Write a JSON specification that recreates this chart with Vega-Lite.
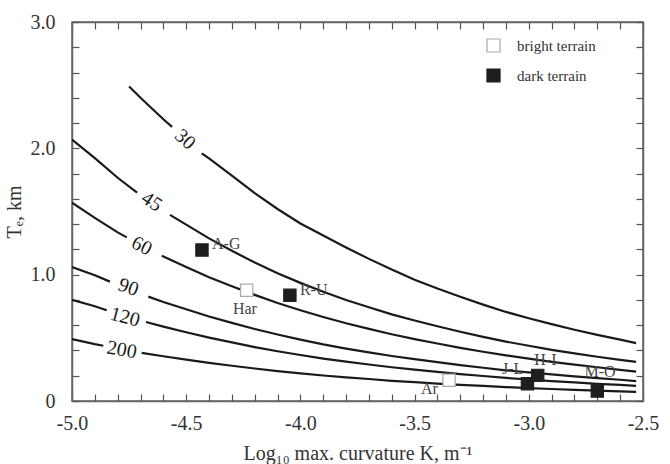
{
  "$schema": "https://vega.github.io/schema/vega-lite/v6.json",
  "width": 571,
  "height": 379,
  "autosize": {"type": "none"},
  "padding": {"left": 72, "top": 22, "right": 27, "bottom": 63},
  "background": "white",
  "config": {
    "font": "Liberation Serif",
    "view": {"stroke": "#666", "strokeWidth": 1.5},
    "axis": {
      "labelFont": "Liberation Serif",
      "titleFont": "Liberation Serif",
      "labelFontSize": 20,
      "titleFontSize": 20,
      "titleFontWeight": "normal",
      "labelColor": "#333",
      "titleColor": "#333",
      "domainColor": "#666",
      "domainWidth": 1.5,
      "tickColor": "#555",
      "tickWidth": 1.2,
      "tickSize": -7,
      "grid": false
    }
  },
  "datasets": {
    "curves": [
      {"c": "30", "s": "a", "x": -4.75, "T": 2.49},
      {"c": "30", "s": "a", "x": -4.7, "T": 2.4},
      {"c": "30", "s": "a", "x": -4.6, "T": 2.23},
      {"c": "30", "s": "a", "x": -4.562, "T": 2.17},
      {"c": "30", "s": "b", "x": -4.432, "T": 1.96},
      {"c": "30", "s": "b", "x": -4.4, "T": 1.92},
      {"c": "30", "s": "b", "x": -4.3, "T": 1.783},
      {"c": "30", "s": "b", "x": -4.2, "T": 1.645},
      {"c": "30", "s": "b", "x": -4.1, "T": 1.52},
      {"c": "30", "s": "b", "x": -4.0, "T": 1.405},
      {"c": "30", "s": "b", "x": -3.9, "T": 1.31},
      {"c": "30", "s": "b", "x": -3.8, "T": 1.215},
      {"c": "30", "s": "b", "x": -3.7, "T": 1.125},
      {"c": "30", "s": "b", "x": -3.6, "T": 1.04},
      {"c": "30", "s": "b", "x": -3.5, "T": 0.96},
      {"c": "30", "s": "b", "x": -3.4, "T": 0.89},
      {"c": "30", "s": "b", "x": -3.3, "T": 0.825},
      {"c": "30", "s": "b", "x": -3.2, "T": 0.763},
      {"c": "30", "s": "b", "x": -3.1, "T": 0.705},
      {"c": "30", "s": "b", "x": -3.0, "T": 0.655},
      {"c": "30", "s": "b", "x": -2.9, "T": 0.608},
      {"c": "30", "s": "b", "x": -2.8, "T": 0.564},
      {"c": "30", "s": "b", "x": -2.7, "T": 0.523},
      {"c": "30", "s": "b", "x": -2.6, "T": 0.486},
      {"c": "30", "s": "b", "x": -2.53, "T": 0.458},
      {"c": "45", "s": "a", "x": -5.0, "T": 2.07},
      {"c": "45", "s": "a", "x": -4.9, "T": 1.922},
      {"c": "45", "s": "a", "x": -4.8, "T": 1.767},
      {"c": "45", "s": "a", "x": -4.715, "T": 1.65},
      {"c": "45", "s": "b", "x": -4.571, "T": 1.473},
      {"c": "45", "s": "b", "x": -4.5, "T": 1.396},
      {"c": "45", "s": "b", "x": -4.4, "T": 1.287},
      {"c": "45", "s": "b", "x": -4.3, "T": 1.189},
      {"c": "45", "s": "b", "x": -4.2, "T": 1.096},
      {"c": "45", "s": "b", "x": -4.1, "T": 1.011},
      {"c": "45", "s": "b", "x": -4.0, "T": 0.935},
      {"c": "45", "s": "b", "x": -3.9, "T": 0.865},
      {"c": "45", "s": "b", "x": -3.8, "T": 0.8},
      {"c": "45", "s": "b", "x": -3.7, "T": 0.742},
      {"c": "45", "s": "b", "x": -3.6, "T": 0.686},
      {"c": "45", "s": "b", "x": -3.5, "T": 0.637},
      {"c": "45", "s": "b", "x": -3.4, "T": 0.592},
      {"c": "45", "s": "b", "x": -3.3, "T": 0.548},
      {"c": "45", "s": "b", "x": -3.2, "T": 0.508},
      {"c": "45", "s": "b", "x": -3.1, "T": 0.47},
      {"c": "45", "s": "b", "x": -3.0, "T": 0.437},
      {"c": "45", "s": "b", "x": -2.9, "T": 0.405},
      {"c": "45", "s": "b", "x": -2.8, "T": 0.377},
      {"c": "45", "s": "b", "x": -2.7, "T": 0.35},
      {"c": "45", "s": "b", "x": -2.6, "T": 0.325},
      {"c": "45", "s": "b", "x": -2.53, "T": 0.31},
      {"c": "60", "s": "a", "x": -5.0, "T": 1.57},
      {"c": "60", "s": "a", "x": -4.9, "T": 1.45},
      {"c": "60", "s": "a", "x": -4.8, "T": 1.335},
      {"c": "60", "s": "a", "x": -4.76, "T": 1.295},
      {"c": "60", "s": "b", "x": -4.607, "T": 1.15},
      {"c": "60", "s": "b", "x": -4.5, "T": 1.06},
      {"c": "60", "s": "b", "x": -4.4, "T": 0.98},
      {"c": "60", "s": "b", "x": -4.3, "T": 0.908},
      {"c": "60", "s": "b", "x": -4.2, "T": 0.84},
      {"c": "60", "s": "b", "x": -4.1, "T": 0.776},
      {"c": "60", "s": "b", "x": -4.0, "T": 0.718},
      {"c": "60", "s": "b", "x": -3.9, "T": 0.665},
      {"c": "60", "s": "b", "x": -3.8, "T": 0.615},
      {"c": "60", "s": "b", "x": -3.7, "T": 0.571},
      {"c": "60", "s": "b", "x": -3.6, "T": 0.528},
      {"c": "60", "s": "b", "x": -3.5, "T": 0.49},
      {"c": "60", "s": "b", "x": -3.4, "T": 0.455},
      {"c": "60", "s": "b", "x": -3.3, "T": 0.421},
      {"c": "60", "s": "b", "x": -3.2, "T": 0.39},
      {"c": "60", "s": "b", "x": -3.1, "T": 0.361},
      {"c": "60", "s": "b", "x": -3.0, "T": 0.335},
      {"c": "60", "s": "b", "x": -2.9, "T": 0.31},
      {"c": "60", "s": "b", "x": -2.8, "T": 0.288},
      {"c": "60", "s": "b", "x": -2.7, "T": 0.267},
      {"c": "60", "s": "b", "x": -2.6, "T": 0.247},
      {"c": "60", "s": "b", "x": -2.53, "T": 0.233},
      {"c": "90", "s": "a", "x": -5.0, "T": 1.06},
      {"c": "90", "s": "a", "x": -4.9, "T": 0.995},
      {"c": "90", "s": "a", "x": -4.834, "T": 0.945},
      {"c": "90", "s": "b", "x": -4.666, "T": 0.826},
      {"c": "90", "s": "b", "x": -4.6, "T": 0.784},
      {"c": "90", "s": "b", "x": -4.5, "T": 0.726},
      {"c": "90", "s": "b", "x": -4.4, "T": 0.669},
      {"c": "90", "s": "b", "x": -4.3, "T": 0.618},
      {"c": "90", "s": "b", "x": -4.2, "T": 0.57},
      {"c": "90", "s": "b", "x": -4.1, "T": 0.526},
      {"c": "90", "s": "b", "x": -4.0, "T": 0.486},
      {"c": "90", "s": "b", "x": -3.9, "T": 0.448},
      {"c": "90", "s": "b", "x": -3.8, "T": 0.415},
      {"c": "90", "s": "b", "x": -3.7, "T": 0.385},
      {"c": "90", "s": "b", "x": -3.6, "T": 0.356},
      {"c": "90", "s": "b", "x": -3.5, "T": 0.331},
      {"c": "90", "s": "b", "x": -3.4, "T": 0.308},
      {"c": "90", "s": "b", "x": -3.3, "T": 0.284},
      {"c": "90", "s": "b", "x": -3.2, "T": 0.263},
      {"c": "90", "s": "b", "x": -3.1, "T": 0.243},
      {"c": "90", "s": "b", "x": -3.0, "T": 0.227},
      {"c": "90", "s": "b", "x": -2.9, "T": 0.21},
      {"c": "90", "s": "b", "x": -2.8, "T": 0.195},
      {"c": "90", "s": "b", "x": -2.7, "T": 0.181},
      {"c": "90", "s": "b", "x": -2.6, "T": 0.168},
      {"c": "90", "s": "b", "x": -2.53, "T": 0.158},
      {"c": "120", "s": "a", "x": -5.0, "T": 0.8},
      {"c": "120", "s": "a", "x": -4.9, "T": 0.75},
      {"c": "120", "s": "a", "x": -4.848, "T": 0.718},
      {"c": "120", "s": "b", "x": -4.676, "T": 0.625},
      {"c": "120", "s": "b", "x": -4.6, "T": 0.589},
      {"c": "120", "s": "b", "x": -4.5, "T": 0.544},
      {"c": "120", "s": "b", "x": -4.4, "T": 0.502},
      {"c": "120", "s": "b", "x": -4.3, "T": 0.464},
      {"c": "120", "s": "b", "x": -4.2, "T": 0.427},
      {"c": "120", "s": "b", "x": -4.1, "T": 0.394},
      {"c": "120", "s": "b", "x": -4.0, "T": 0.364},
      {"c": "120", "s": "b", "x": -3.9, "T": 0.336},
      {"c": "120", "s": "b", "x": -3.8, "T": 0.311},
      {"c": "120", "s": "b", "x": -3.7, "T": 0.289},
      {"c": "120", "s": "b", "x": -3.6, "T": 0.267},
      {"c": "120", "s": "b", "x": -3.5, "T": 0.248},
      {"c": "120", "s": "b", "x": -3.4, "T": 0.231},
      {"c": "120", "s": "b", "x": -3.3, "T": 0.213},
      {"c": "120", "s": "b", "x": -3.2, "T": 0.198},
      {"c": "120", "s": "b", "x": -3.1, "T": 0.183},
      {"c": "120", "s": "b", "x": -3.0, "T": 0.17},
      {"c": "120", "s": "b", "x": -2.9, "T": 0.158},
      {"c": "120", "s": "b", "x": -2.8, "T": 0.147},
      {"c": "120", "s": "b", "x": -2.7, "T": 0.136},
      {"c": "120", "s": "b", "x": -2.6, "T": 0.127},
      {"c": "120", "s": "b", "x": -2.53, "T": 0.119},
      {"c": "200", "s": "a", "x": -5.0, "T": 0.49},
      {"c": "200", "s": "a", "x": -4.9, "T": 0.45},
      {"c": "200", "s": "a", "x": -4.863, "T": 0.437},
      {"c": "200", "s": "b", "x": -4.695, "T": 0.381},
      {"c": "200", "s": "b", "x": -4.6, "T": 0.354},
      {"c": "200", "s": "b", "x": -4.5, "T": 0.327},
      {"c": "200", "s": "b", "x": -4.4, "T": 0.302},
      {"c": "200", "s": "b", "x": -4.3, "T": 0.279},
      {"c": "200", "s": "b", "x": -4.2, "T": 0.257},
      {"c": "200", "s": "b", "x": -4.1, "T": 0.237},
      {"c": "200", "s": "b", "x": -4.0, "T": 0.218},
      {"c": "200", "s": "b", "x": -3.9, "T": 0.202},
      {"c": "200", "s": "b", "x": -3.8, "T": 0.187},
      {"c": "200", "s": "b", "x": -3.7, "T": 0.174},
      {"c": "200", "s": "b", "x": -3.6, "T": 0.16},
      {"c": "200", "s": "b", "x": -3.5, "T": 0.149},
      {"c": "200", "s": "b", "x": -3.4, "T": 0.138},
      {"c": "200", "s": "b", "x": -3.3, "T": 0.128},
      {"c": "200", "s": "b", "x": -3.2, "T": 0.119},
      {"c": "200", "s": "b", "x": -3.1, "T": 0.11},
      {"c": "200", "s": "b", "x": -3.0, "T": 0.102},
      {"c": "200", "s": "b", "x": -2.9, "T": 0.095},
      {"c": "200", "s": "b", "x": -2.8, "T": 0.088},
      {"c": "200", "s": "b", "x": -2.7, "T": 0.082},
      {"c": "200", "s": "b", "x": -2.6, "T": 0.076},
      {"c": "200", "s": "b", "x": -2.53, "T": 0.072}
    ],
    "clabels": [
      {"c": "30", "x": -4.505, "T": 2.07},
      {"c": "45", "x": -4.651, "T": 1.578},
      {"c": "60", "x": -4.695, "T": 1.227},
      {"c": "90", "x": -4.753, "T": 0.9},
      {"c": "120", "x": -4.768, "T": 0.663},
      {"c": "200", "x": -4.782, "T": 0.404}
    ],
    "points": [
      {"name": "A-G", "type": "dark terrain", "x": -4.431, "T": 1.195, "lx": -4.387, "lT": 1.245},
      {"name": "Har", "type": "bright terrain", "x": -4.235, "T": 0.877, "lx": -4.243, "lT": 0.731},
      {"name": "R-U", "type": "dark terrain", "x": -4.046, "T": 0.837, "lx": -4.002, "lT": 0.877},
      {"name": "Ar", "type": "bright terrain", "x": -3.349, "T": 0.164, "lx": -3.398, "lT": 0.097},
      {"name": "J-L", "type": "dark terrain", "x": -3.006, "T": 0.137, "lx": -3.071, "lT": 0.256},
      {"name": "H-I", "type": "dark terrain", "x": -2.961, "T": 0.203, "lx": -2.927, "lT": 0.322},
      {"name": "M-O", "type": "dark terrain", "x": -2.7, "T": 0.079, "lx": -2.688, "lT": 0.23}
    ]
  },
  "layer": [
    {
      "layer": [
        {
          "data": {"name": "curves"},
          "mark": {"type": "line", "color": "#1a1a1a", "strokeWidth": 2.2, "clip": true},
          "encoding": {
            "x": {
              "field": "x", "type": "quantitative",
              "scale": {"domain": [-5.0, -2.5], "nice": false, "zero": false},
              "axis": {
                "title": "Log₁₀ max. curvature K, m⁻¹",
                "values": [-5.0, -4.9, -4.8, -4.7, -4.6, -4.5, -4.4, -4.3, -4.2, -4.1, -4.0, -3.9, -3.8, -3.7, -3.6, -3.5, -3.4, -3.3, -3.2, -3.1, -3.0, -2.9, -2.8, -2.7, -2.6, -2.5],
                "labelExpr": "abs(datum.value * 2 - round(datum.value * 2)) < 0.01 ? replace(format(datum.value, '.1f'), '−', '-') : ''",
                "labelPadding": 19,
                "titlePadding": 10,
                "labelFlush": false,
                "labelOverlap": false
              }
            },
            "y": {
              "field": "T", "type": "quantitative",
              "scale": {"domain": [0, 3.0], "nice": false},
              "axis": {
                "title": "Tₑ, km",
                "values": [0, 0.2, 0.4, 0.6, 0.8, 1.0, 1.2, 1.4, 1.6, 1.8, 2.0, 2.2, 2.4, 2.6, 2.8, 3.0],
                "labelExpr": "abs(datum.value - round(datum.value)) < 0.01 ? (datum.value == 0 ? '0' : format(datum.value, '.1f')) : ''",
                "labelPadding": 24,
                "titlePadding": 6,
                "labelFlush": false,
                "labelOverlap": false
              }
            },
            "detail": [{"field": "c"}, {"field": "s"}]
          }
        },
        {
          "data": {"name": "clabels"},
          "mark": {"type": "text", "fontSize": 20, "color": "#1a1a1a", "font": "Liberation Serif"},
          "transform": [{"filter": "datum.c == '30'"}],
          "encoding": {
            "x": {"field": "x", "type": "quantitative", "axis": {"title": "Log₁₀ max. curvature K, m⁻¹", "values": [-5.0, -4.9, -4.8, -4.7, -4.6, -4.5, -4.4, -4.3, -4.2, -4.1, -4.0, -3.9, -3.8, -3.7, -3.6, -3.5, -3.4, -3.3, -3.2, -3.1, -3.0, -2.9, -2.8, -2.7, -2.6, -2.5], "labelExpr": "abs(datum.value * 2 - round(datum.value * 2)) < 0.01 ? replace(format(datum.value, '.1f'), '−', '-') : ''", "labelPadding": 19, "titlePadding": 10, "labelFlush": false, "labelOverlap": false}},
            "y": {"field": "T", "type": "quantitative", "axis": {"title": "Tₑ, km", "values": [0, 0.2, 0.4, 0.6, 0.8, 1.0, 1.2, 1.4, 1.6, 1.8, 2.0, 2.2, 2.4, 2.6, 2.8, 3.0], "labelExpr": "abs(datum.value - round(datum.value)) < 0.01 ? (datum.value == 0 ? '0' : format(datum.value, '.1f')) : ''", "labelPadding": 24, "titlePadding": 6, "labelFlush": false, "labelOverlap": false}},
            "text": {"field": "c"},
            "angle": {"value": 42}
          }
        },
        {
          "data": {"name": "clabels"},
          "mark": {"type": "text", "fontSize": 20, "color": "#1a1a1a", "font": "Liberation Serif"},
          "transform": [{"filter": "datum.c == '45'"}],
          "encoding": {
            "x": {"field": "x", "type": "quantitative", "axis": {"title": "Log₁₀ max. curvature K, m⁻¹", "values": [-5.0, -4.9, -4.8, -4.7, -4.6, -4.5, -4.4, -4.3, -4.2, -4.1, -4.0, -3.9, -3.8, -3.7, -3.6, -3.5, -3.4, -3.3, -3.2, -3.1, -3.0, -2.9, -2.8, -2.7, -2.6, -2.5], "labelExpr": "abs(datum.value * 2 - round(datum.value * 2)) < 0.01 ? replace(format(datum.value, '.1f'), '−', '-') : ''", "labelPadding": 19, "titlePadding": 10, "labelFlush": false, "labelOverlap": false}},
            "y": {"field": "T", "type": "quantitative", "axis": {"title": "Tₑ, km", "values": [0, 0.2, 0.4, 0.6, 0.8, 1.0, 1.2, 1.4, 1.6, 1.8, 2.0, 2.2, 2.4, 2.6, 2.8, 3.0], "labelExpr": "abs(datum.value - round(datum.value)) < 0.01 ? (datum.value == 0 ? '0' : format(datum.value, '.1f')) : ''", "labelPadding": 24, "titlePadding": 6, "labelFlush": false, "labelOverlap": false}},
            "text": {"field": "c"},
            "angle": {"value": 33}
          }
        },
        {
          "data": {"name": "clabels"},
          "mark": {"type": "text", "fontSize": 20, "color": "#1a1a1a", "font": "Liberation Serif"},
          "transform": [{"filter": "datum.c == '60'"}],
          "encoding": {
            "x": {"field": "x", "type": "quantitative", "axis": {"title": "Log₁₀ max. curvature K, m⁻¹", "values": [-5.0, -4.9, -4.8, -4.7, -4.6, -4.5, -4.4, -4.3, -4.2, -4.1, -4.0, -3.9, -3.8, -3.7, -3.6, -3.5, -3.4, -3.3, -3.2, -3.1, -3.0, -2.9, -2.8, -2.7, -2.6, -2.5], "labelExpr": "abs(datum.value * 2 - round(datum.value * 2)) < 0.01 ? replace(format(datum.value, '.1f'), '−', '-') : ''", "labelPadding": 19, "titlePadding": 10, "labelFlush": false, "labelOverlap": false}},
            "y": {"field": "T", "type": "quantitative", "axis": {"title": "Tₑ, km", "values": [0, 0.2, 0.4, 0.6, 0.8, 1.0, 1.2, 1.4, 1.6, 1.8, 2.0, 2.2, 2.4, 2.6, 2.8, 3.0], "labelExpr": "abs(datum.value - round(datum.value)) < 0.01 ? (datum.value == 0 ? '0' : format(datum.value, '.1f')) : ''", "labelPadding": 24, "titlePadding": 6, "labelFlush": false, "labelOverlap": false}},
            "text": {"field": "c"},
            "angle": {"value": 27}
          }
        },
        {
          "data": {"name": "clabels"},
          "mark": {"type": "text", "fontSize": 20, "color": "#1a1a1a", "font": "Liberation Serif"},
          "transform": [{"filter": "datum.c == '90'"}],
          "encoding": {
            "x": {"field": "x", "type": "quantitative", "axis": {"title": "Log₁₀ max. curvature K, m⁻¹", "values": [-5.0, -4.9, -4.8, -4.7, -4.6, -4.5, -4.4, -4.3, -4.2, -4.1, -4.0, -3.9, -3.8, -3.7, -3.6, -3.5, -3.4, -3.3, -3.2, -3.1, -3.0, -2.9, -2.8, -2.7, -2.6, -2.5], "labelExpr": "abs(datum.value * 2 - round(datum.value * 2)) < 0.01 ? replace(format(datum.value, '.1f'), '−', '-') : ''", "labelPadding": 19, "titlePadding": 10, "labelFlush": false, "labelOverlap": false}},
            "y": {"field": "T", "type": "quantitative", "axis": {"title": "Tₑ, km", "values": [0, 0.2, 0.4, 0.6, 0.8, 1.0, 1.2, 1.4, 1.6, 1.8, 2.0, 2.2, 2.4, 2.6, 2.8, 3.0], "labelExpr": "abs(datum.value - round(datum.value)) < 0.01 ? (datum.value == 0 ? '0' : format(datum.value, '.1f')) : ''", "labelPadding": 24, "titlePadding": 6, "labelFlush": false, "labelOverlap": false}},
            "text": {"field": "c"},
            "angle": {"value": 19}
          }
        },
        {
          "data": {"name": "clabels"},
          "mark": {"type": "text", "fontSize": 20, "color": "#1a1a1a", "font": "Liberation Serif"},
          "transform": [{"filter": "datum.c == '120'"}],
          "encoding": {
            "x": {"field": "x", "type": "quantitative", "axis": {"title": "Log₁₀ max. curvature K, m⁻¹", "values": [-5.0, -4.9, -4.8, -4.7, -4.6, -4.5, -4.4, -4.3, -4.2, -4.1, -4.0, -3.9, -3.8, -3.7, -3.6, -3.5, -3.4, -3.3, -3.2, -3.1, -3.0, -2.9, -2.8, -2.7, -2.6, -2.5], "labelExpr": "abs(datum.value * 2 - round(datum.value * 2)) < 0.01 ? replace(format(datum.value, '.1f'), '−', '-') : ''", "labelPadding": 19, "titlePadding": 10, "labelFlush": false, "labelOverlap": false}},
            "y": {"field": "T", "type": "quantitative", "axis": {"title": "Tₑ, km", "values": [0, 0.2, 0.4, 0.6, 0.8, 1.0, 1.2, 1.4, 1.6, 1.8, 2.0, 2.2, 2.4, 2.6, 2.8, 3.0], "labelExpr": "abs(datum.value - round(datum.value)) < 0.01 ? (datum.value == 0 ? '0' : format(datum.value, '.1f')) : ''", "labelPadding": 24, "titlePadding": 6, "labelFlush": false, "labelOverlap": false}},
            "text": {"field": "c"},
            "angle": {"value": 15}
          }
        },
        {
          "data": {"name": "clabels"},
          "mark": {"type": "text", "fontSize": 20, "color": "#1a1a1a", "font": "Liberation Serif"},
          "transform": [{"filter": "datum.c == '200'"}],
          "encoding": {
            "x": {"field": "x", "type": "quantitative", "axis": {"title": "Log₁₀ max. curvature K, m⁻¹", "values": [-5.0, -4.9, -4.8, -4.7, -4.6, -4.5, -4.4, -4.3, -4.2, -4.1, -4.0, -3.9, -3.8, -3.7, -3.6, -3.5, -3.4, -3.3, -3.2, -3.1, -3.0, -2.9, -2.8, -2.7, -2.6, -2.5], "labelExpr": "abs(datum.value * 2 - round(datum.value * 2)) < 0.01 ? replace(format(datum.value, '.1f'), '−', '-') : ''", "labelPadding": 19, "titlePadding": 10, "labelFlush": false, "labelOverlap": false}},
            "y": {"field": "T", "type": "quantitative", "axis": {"title": "Tₑ, km", "values": [0, 0.2, 0.4, 0.6, 0.8, 1.0, 1.2, 1.4, 1.6, 1.8, 2.0, 2.2, 2.4, 2.6, 2.8, 3.0], "labelExpr": "abs(datum.value - round(datum.value)) < 0.01 ? (datum.value == 0 ? '0' : format(datum.value, '.1f')) : ''", "labelPadding": 24, "titlePadding": 6, "labelFlush": false, "labelOverlap": false}},
            "text": {"field": "c"},
            "angle": {"value": 10}
          }
        },
        {
          "data": {"name": "points"},
          "transform": [{"filter": {"field": "name", "oneOf": ["A-G", "R-U"]}}],
          "mark": {"type": "text", "align": "left", "baseline": "middle", "fontSize": 16, "color": "#444", "font": "Liberation Serif"},
          "encoding": {
            "x": {"field": "lx", "type": "quantitative", "axis": {"title": "Log₁₀ max. curvature K, m⁻¹", "values": [-5.0, -4.9, -4.8, -4.7, -4.6, -4.5, -4.4, -4.3, -4.2, -4.1, -4.0, -3.9, -3.8, -3.7, -3.6, -3.5, -3.4, -3.3, -3.2, -3.1, -3.0, -2.9, -2.8, -2.7, -2.6, -2.5], "labelExpr": "abs(datum.value * 2 - round(datum.value * 2)) < 0.01 ? replace(format(datum.value, '.1f'), '−', '-') : ''", "labelPadding": 19, "titlePadding": 10, "labelFlush": false, "labelOverlap": false}},
            "y": {"field": "lT", "type": "quantitative", "axis": {"title": "Tₑ, km", "values": [0, 0.2, 0.4, 0.6, 0.8, 1.0, 1.2, 1.4, 1.6, 1.8, 2.0, 2.2, 2.4, 2.6, 2.8, 3.0], "labelExpr": "abs(datum.value - round(datum.value)) < 0.01 ? (datum.value == 0 ? '0' : format(datum.value, '.1f')) : ''", "labelPadding": 24, "titlePadding": 6, "labelFlush": false, "labelOverlap": false}},
            "text": {"field": "name"}
          }
        },
        {
          "data": {"name": "points"},
          "transform": [{"filter": {"field": "name", "oneOf": ["Har", "J-L", "H-I", "M-O"]}}],
          "mark": {"type": "text", "align": "center", "baseline": "middle", "fontSize": 16, "color": "#444", "font": "Liberation Serif"},
          "encoding": {
            "x": {"field": "lx", "type": "quantitative", "axis": {"title": "Log₁₀ max. curvature K, m⁻¹", "values": [-5.0, -4.9, -4.8, -4.7, -4.6, -4.5, -4.4, -4.3, -4.2, -4.1, -4.0, -3.9, -3.8, -3.7, -3.6, -3.5, -3.4, -3.3, -3.2, -3.1, -3.0, -2.9, -2.8, -2.7, -2.6, -2.5], "labelExpr": "abs(datum.value * 2 - round(datum.value * 2)) < 0.01 ? replace(format(datum.value, '.1f'), '−', '-') : ''", "labelPadding": 19, "titlePadding": 10, "labelFlush": false, "labelOverlap": false}},
            "y": {"field": "lT", "type": "quantitative", "axis": {"title": "Tₑ, km", "values": [0, 0.2, 0.4, 0.6, 0.8, 1.0, 1.2, 1.4, 1.6, 1.8, 2.0, 2.2, 2.4, 2.6, 2.8, 3.0], "labelExpr": "abs(datum.value - round(datum.value)) < 0.01 ? (datum.value == 0 ? '0' : format(datum.value, '.1f')) : ''", "labelPadding": 24, "titlePadding": 6, "labelFlush": false, "labelOverlap": false}},
            "text": {"field": "name"}
          }
        },
        {
          "data": {"name": "points"},
          "transform": [{"filter": {"field": "name", "oneOf": ["Ar"]}}],
          "mark": {"type": "text", "align": "right", "baseline": "middle", "fontSize": 16, "color": "#444", "font": "Liberation Serif"},
          "encoding": {
            "x": {"field": "lx", "type": "quantitative", "axis": {"title": "Log₁₀ max. curvature K, m⁻¹", "values": [-5.0, -4.9, -4.8, -4.7, -4.6, -4.5, -4.4, -4.3, -4.2, -4.1, -4.0, -3.9, -3.8, -3.7, -3.6, -3.5, -3.4, -3.3, -3.2, -3.1, -3.0, -2.9, -2.8, -2.7, -2.6, -2.5], "labelExpr": "abs(datum.value * 2 - round(datum.value * 2)) < 0.01 ? replace(format(datum.value, '.1f'), '−', '-') : ''", "labelPadding": 19, "titlePadding": 10, "labelFlush": false, "labelOverlap": false}},
            "y": {"field": "lT", "type": "quantitative", "axis": {"title": "Tₑ, km", "values": [0, 0.2, 0.4, 0.6, 0.8, 1.0, 1.2, 1.4, 1.6, 1.8, 2.0, 2.2, 2.4, 2.6, 2.8, 3.0], "labelExpr": "abs(datum.value - round(datum.value)) < 0.01 ? (datum.value == 0 ? '0' : format(datum.value, '.1f')) : ''", "labelPadding": 24, "titlePadding": 6, "labelFlush": false, "labelOverlap": false}},
            "text": {"field": "name"}
          }
        }
      ]
    },
    {
      "data": {"name": "points"},
      "mark": {"type": "point", "shape": "square", "filled": true, "size": 150, "strokeWidth": 1.2, "opacity": 1},
      "encoding": {
        "x": {"field": "x", "type": "quantitative", "axis": {"orient": "top", "title": null, "labels": false, "values": [-5.0, -4.9, -4.8, -4.7, -4.6, -4.5, -4.4, -4.3, -4.2, -4.1, -4.0, -3.9, -3.8, -3.7, -3.6, -3.5, -3.4, -3.3, -3.2, -3.1, -3.0, -2.9, -2.8, -2.7, -2.6, -2.5]}},
        "y": {"field": "T", "type": "quantitative", "axis": {"orient": "right", "title": null, "labels": false, "values": [0, 0.2, 0.4, 0.6, 0.8, 1.0, 1.2, 1.4, 1.6, 1.8, 2.0, 2.2, 2.4, 2.6, 2.8, 3.0]}},
        "fill": {
          "field": "type", "type": "nominal",
          "scale": {"domain": ["bright terrain", "dark terrain"], "range": ["#ffffff", "#1e1e1e"]},
          "legend": {
            "title": null, "orient": "none", "legendX": 414, "legendY": 16,
            "symbolType": "square", "symbolSize": 170, "symbolStrokeWidth": 1.2,
            "labelFont": "Liberation Serif", "labelFontSize": 15, "labelColor": "#333",
            "labelOffset": 16, "rowPadding": 11
          }
        },
        "stroke": {
          "field": "type", "type": "nominal",
          "scale": {"domain": ["bright terrain", "dark terrain"], "range": ["#aaaaaa", "#1e1e1e"]},
          "legend": null
        }
      }
    }
  ],
  "resolve": {"axis": {"x": "independent", "y": "independent"}}
}
